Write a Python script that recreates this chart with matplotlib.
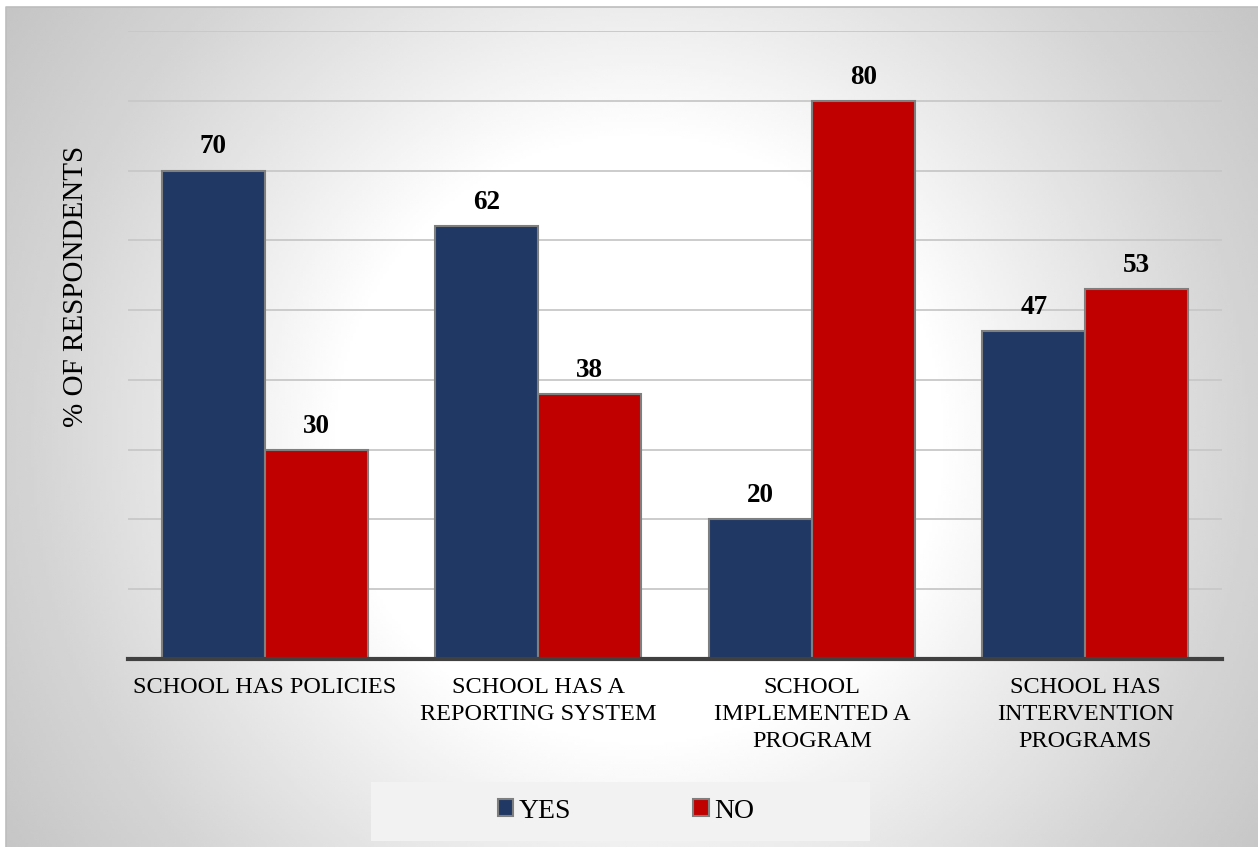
import numpy as np
import matplotlib
matplotlib.use("Agg")
import matplotlib.pyplot as plt
from matplotlib.patches import Rectangle, Patch
from matplotlib.lines import Line2D

categories = ["SCHOOL HAS POLICIES", "SCHOOL HAS A\nREPORTING SYSTEM",
              "SCHOOL\nIMPLEMENTED A\nPROGRAM", "SCHOOL HAS\nINTERVENTION\nPROGRAMS"]
yes_values = [70, 62, 20, 47]
no_values = [30, 38, 80, 53]
series_names = ["YES", "NO"]
colors = ["#1f3864", "#c00000"]

plt.rcParams['font.family'] = ['Liberation Serif', 'DejaVu Serif']

W, H = 1258, 847
fig = plt.figure(figsize=(W / 100, H / 100), dpi=100)
fig.patch.set_facecolor("white")

# background radial gradient in chart area
bg = fig.add_axes([6 / W, 0, 1 - 6 / W, 1 - 7 / H], zorder=-10)
xs = np.linspace(6, W, 420)
ys = np.linspace(7, H, 300)
X, Y = np.meshgrid(xs, ys)
d = np.sqrt((X - 640) ** 2 + (Y - 440) ** 2)
val = np.interp(d, [0, 300, 430, 600, 780], [1.0, 1.0, 0.925, 0.835, 0.765])
bg.imshow(val, cmap="gray", vmin=0, vmax=1, aspect="auto",
          extent=[0, 1, 0, 1], origin="upper", interpolation="bilinear")
bg.set_axis_off()
# thin border on top and left of the chart area
fig.lines.append(Line2D([6 / W, 6 / W, 1], [0, 1 - 7 / H, 1 - 7 / H],
                        transform=fig.transFigure, color="#bdbdbd", linewidth=1.2, zorder=-4))

# legend box
fig.patches.append(Rectangle((371 / W, 1 - 841 / H), (870 - 371) / W, (841 - 782) / H,
                             transform=fig.transFigure, facecolor="#f2f2f2",
                             edgecolor="none", zorder=-5))

ax = fig.add_axes([128 / W, 188 / H, 1094 / W, 628 / H])
ax.set_facecolor("none")
x = np.arange(len(categories))
w = 0.377
b1 = ax.bar(x - w / 2, yes_values, w, color=colors[0], edgecolor="#7f7f7f", linewidth=1.5, zorder=3)
b2 = ax.bar(x + w / 2, no_values, w, color=colors[1], edgecolor="#7f7f7f", linewidth=1.5, zorder=3)
for bars, vals in ((b1, yes_values), (b2, no_values)):
    for rect, v in zip(bars, vals):
        ax.annotate(f"{v}", (rect.get_x() + rect.get_width() / 2, v), xytext=(0, 8),
                    textcoords="offset points", ha="center", va="bottom",
                    fontsize=19.5, fontweight="bold", color="black")

ax.set_xlim(-0.5, len(categories) - 0.5)
ax.set_ylim(0, 90)
ax.set_yticks(np.arange(10, 91, 10))
ax.yaxis.grid(True, color="#c8c8c8", linewidth=1.3, zorder=0)
ax.set_axisbelow(True)
ax.tick_params(axis="y", left=False, labelleft=False)
ax.set_xticks(x)
ax.set_xticklabels(categories, fontsize=17.5, linespacing=1.38)
ax.tick_params(axis="x", length=0, pad=13)
for s in ("top", "right", "left"):
    ax.spines[s].set_visible(False)
ax.spines["bottom"].set_color("#404040")
ax.spines["bottom"].set_linewidth(3)
ax.spines["bottom"].set_zorder(4)

ax.set_ylabel("% OF RESPONDENTS", fontsize=21)
ax.yaxis.set_label_coords(-0.0355, 0.594)

handles = [Patch(facecolor=colors[0], edgecolor="#7f7f7f", linewidth=1.5),
           Patch(facecolor=colors[1], edgecolor="#7f7f7f", linewidth=1.5)]
fig.legend(handles, series_names, loc="center", bbox_to_anchor=(626 / W, 1 - 811 / H),
           ncol=2, frameon=False, fontsize=20, handlelength=0.55, handleheight=0.55,
           handletextpad=0.2, columnspacing=4.4)

fig.savefig("out.png", dpi=100)
